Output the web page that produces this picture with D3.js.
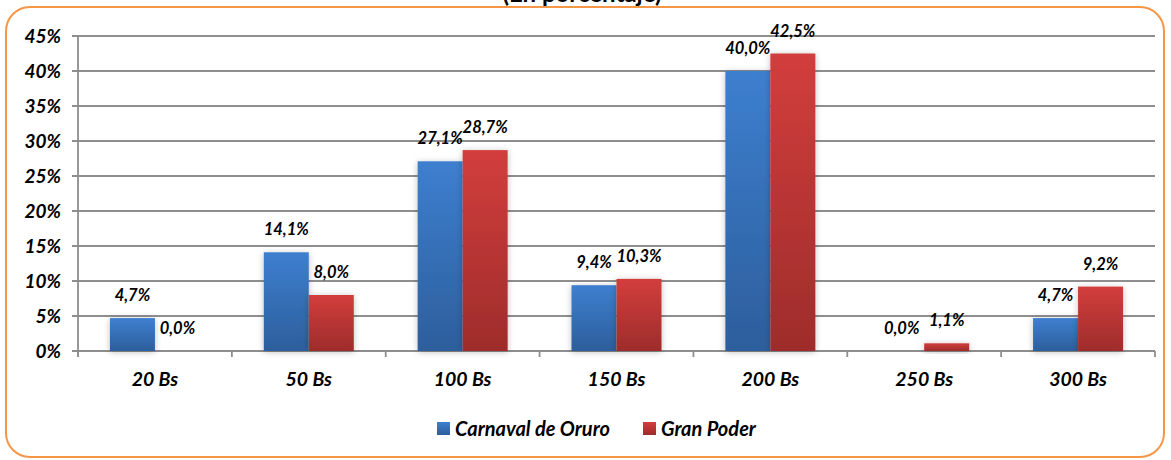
<!DOCTYPE html>
<html><head><meta charset="utf-8">
<script src="https://cdn.jsdelivr.net/npm/d3@7"></script>
<style>body{margin:0;background:#fff}svg{display:block}</style>
</head><body>
<svg id="c" width="1171" height="460"></svg>
<script>
const categories = ["20 Bs","50 Bs","100 Bs","150 Bs","200 Bs","250 Bs","300 Bs"];
const seriesNames = ["Carnaval de Oruro","Gran Poder"];
const oruro = [4.7,14.1,27.1,9.4,40.0,0.0,4.7];
const granPoder = [0.0,8.0,28.7,10.3,42.5,1.1,9.2];
const yTicks = [0,5,10,15,20,25,30,35,40,45];
const title = "(En porcentaje)";

(function(){
const svg = d3.select("#c");
const font = "Lato, 'Open Sans', sans-serif";
const defs = svg.append("defs");
const grads = [["gBlue","#3d7fcf","#2d5e9c"],["gRed","#d23e3c","#9e2c2b"]];
grads.forEach(([id,a,b])=>{
  const g = defs.append("linearGradient").attr("id",id).attr("x1",0).attr("y1",0).attr("x2",0).attr("y2",1);
  g.append("stop").attr("offset","0%").attr("stop-color",a);
  g.append("stop").attr("offset","100%").attr("stop-color",b);
});
const f = defs.append("filter").attr("id","sh").attr("x","-30%").attr("y","-30%").attr("width","160%").attr("height","160%");
f.append("feDropShadow").attr("dx",0).attr("dy",1).attr("stdDeviation",3).attr("flood-color","#000").attr("flood-opacity",0.25);

// frame
svg.append("rect").attr("x",6).attr("y",7).attr("width",1158).attr("height",450).attr("rx",24)
  .attr("fill","#fff").attr("stroke","#f79646").attr("stroke-width",2);

// title (mostly cut off at top, as in the reference)
svg.append("text").attr("x",582).attr("y",2).attr("text-anchor","middle")
  .attr("font-family",font).attr("font-weight","bold").attr("font-size",24).text(title);

const pL = 78, pR = 1155, pT = 36, pB = 351;
const y = d3.scaleLinear().domain([0,45]).range([pB, pT]);
const x0 = d3.scaleBand().domain(categories).range([pL,pR]).padding(0);
const x1 = d3.scaleBand().domain(seriesNames).range([0,90]);
const groupOff = (x0.bandwidth()-90)/2;

// gridlines
svg.append("g").selectAll("line").data(yTicks).join("line")
  .attr("x1",pL-6).attr("x2",pR).attr("y1",d=>y(d)).attr("y2",d=>y(d))
  .attr("stroke","#8e8e8e").attr("stroke-width",1.8);
// y axis line
svg.append("line").attr("x1",pL).attr("x2",pL).attr("y1",pT).attr("y2",pB+6)
  .attr("stroke","#8e8e8e").attr("stroke-width",1.8);
// x ticks
const bounds = categories.map(c=>x0(c)).concat([pR]);
svg.append("g").selectAll("line").data(bounds).join("line")
  .attr("x1",d=>d).attr("x2",d=>d).attr("y1",pB).attr("y2",pB+6)
  .attr("stroke","#8e8e8e").attr("stroke-width",1.8);

// y labels
svg.append("g").selectAll("text").data(yTicks).join("text")
  .attr("x",61).attr("y",d=>y(d)+6.5).attr("text-anchor","end")
  .attr("font-family",font).attr("font-weight","bold").attr("font-style","italic").attr("font-size",19)
  .text(d=>d+"%");

// x labels
svg.append("g").selectAll("text").data(categories).join("text")
  .attr("x",d=>x0(d)+x0.bandwidth()/2).attr("y",386).attr("text-anchor","middle")
  .attr("font-family",font).attr("font-weight","bold").attr("font-style","italic").attr("font-size",19.5)
  .text(d=>d);

const series = [
  {name:seriesNames[0], vals:oruro, fill:"url(#gBlue)"},
  {name:seriesNames[1], vals:granPoder, fill:"url(#gRed)"}
];
const fmt = v => v.toFixed(1).replace(".",",")+"%";
series.forEach(s=>{
  svg.append("g").selectAll("rect").data(categories).join("rect")
    .attr("x",(c)=>x0(c)+groupOff+x1(s.name))
    .attr("width",x1.bandwidth())
    .attr("y",(c,i)=>y(s.vals[i]))
    .attr("height",(c,i)=>y(0)-y(s.vals[i]))
    .attr("fill",s.fill).attr("filter","url(#sh)");
});
series.forEach(s=>{
  svg.append("g").selectAll("text").data(categories).join("text")
    .attr("x",(c)=>x0(c)+groupOff+x1(s.name)+x1.bandwidth()/2)
    .attr("y",(c,i)=>y(s.vals[i])-17)
    .attr("text-anchor","middle")
    .attr("font-family",font).attr("font-weight","bold").attr("font-style","italic").attr("font-size",16.5)
    .text((c,i)=>fmt(s.vals[i]));
});

// legend
const leg = [{name:seriesNames[0],fill:"url(#gBlue)",x:437},{name:seriesNames[1],fill:"url(#gRed)",x:643}];
leg.forEach(l=>{
  svg.append("rect").attr("x",l.x).attr("y",422).attr("width",13).attr("height",13).attr("fill",l.fill);
  svg.append("text").attr("x",l.x+18).attr("y",436)
    .attr("font-family",font).attr("font-weight","bold").attr("font-style","italic").attr("font-size",20)
    .text(l.name);
});
})();
</script>
</body></html>
